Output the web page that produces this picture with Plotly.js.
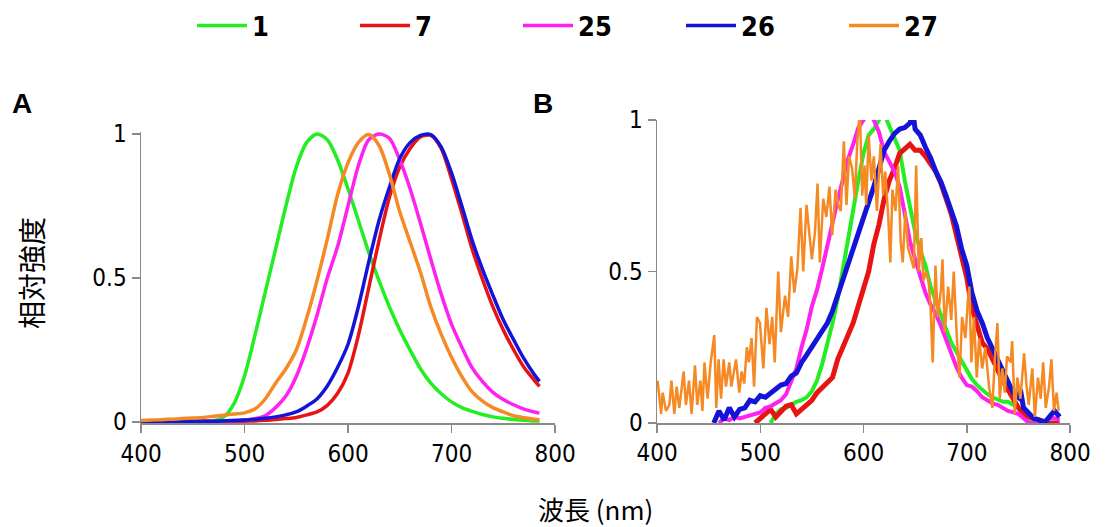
<!DOCTYPE html>
<html>
<head>
<meta charset="utf-8">
<script src="https://cdn.plot.ly/plotly-3.0.1.min.js"></script>
<style>html,body{margin:0;padding:0;background:#fff;}#chart{width:1106px;height:527px;}</style>
</head>
<body>
<div id="chart"></div>
<script>
// ---------- Panel A (smooth spectra) ----------
var aWl = [400,410,420,430,440,450,460,470,480,490,500,510,520,530,540,550,560,570,580,590,600,610,620,630,640,650,660,670,680,690,700,710,720,730,740,750,760,770,780,785];
var aS1  = [0.002,0.002,0.002,0.002,0.002,0.003,0.003,0.005,0.018,0.065,0.16,0.30,0.45,0.60,0.75,0.885,0.97,1.0,0.98,0.91,0.81,0.70,0.59,0.49,0.40,0.32,0.25,0.185,0.135,0.098,0.07,0.05,0.037,0.026,0.018,0.013,0.009,0.006,0.004,0.004];
var aS7  = [0.001,0.001,0.001,0.001,0.001,0.001,0.002,0.002,0.002,0.002,0.003,0.004,0.006,0.009,0.012,0.016,0.025,0.035,0.058,0.10,0.17,0.30,0.465,0.63,0.78,0.885,0.95,0.99,0.995,0.95,0.845,0.725,0.60,0.495,0.40,0.32,0.251,0.19,0.145,0.124];
var aS25 = [0.002,0.002,0.002,0.002,0.002,0.002,0.003,0.003,0.004,0.005,0.007,0.012,0.022,0.05,0.09,0.158,0.255,0.37,0.50,0.61,0.75,0.89,0.98,1.0,0.985,0.91,0.81,0.69,0.565,0.445,0.34,0.26,0.188,0.14,0.103,0.078,0.06,0.045,0.035,0.031];
var aS26 = [0.002,0.002,0.002,0.002,0.003,0.003,0.003,0.003,0.004,0.005,0.007,0.01,0.013,0.018,0.025,0.035,0.055,0.08,0.125,0.19,0.27,0.40,0.555,0.70,0.815,0.915,0.97,0.995,0.998,0.955,0.865,0.75,0.63,0.53,0.44,0.355,0.286,0.22,0.165,0.141];
var aS27 = [0.005,0.007,0.008,0.01,0.012,0.014,0.016,0.02,0.024,0.028,0.032,0.045,0.08,0.135,0.185,0.25,0.36,0.49,0.635,0.79,0.90,0.97,0.998,0.96,0.86,0.73,0.625,0.52,0.40,0.305,0.225,0.158,0.105,0.073,0.05,0.035,0.022,0.015,0.01,0.008];

// ---------- Panel B (noisy spectra) ----------
var b1Wl = [510,515,520,525,530,535,540,545,550,555,560,565,570,575,580,585,590,595,600,605,610,615,620,625,630,635,640,645,650,655,660,665,670,675,680,685,690,695,700,705,710,715,720,725,730,735,740,745,750,755,760,765];
var b1   = [0.0,0.03,0.045,0.05,0.06,0.07,0.075,0.085,0.105,0.14,0.195,0.26,0.33,0.41,0.51,0.60,0.70,0.80,0.89,0.95,0.97,1.0,1.02,0.98,0.945,0.90,0.80,0.72,0.63,0.57,0.52,0.45,0.40,0.35,0.31,0.265,0.235,0.20,0.17,0.145,0.125,0.11,0.095,0.085,0.078,0.07,0.07,0.06,0.05,0.035,0.015,0.0];
var b7Wl = [495,500,505,510,515,520,525,530,535,540,545,550,555,560,565,570,575,580,585,590,595,600,605,610,615,620,625,630,635,640,645,650,655,660,665,670,675,680,685,690,695,700,705,710,715,720,725,730,735,740,745,750,755,760,770,780,790];
var b7   = [0.0,0.015,0.03,0.045,0.02,0.04,0.055,0.06,0.03,0.045,0.06,0.075,0.10,0.115,0.13,0.15,0.21,0.255,0.29,0.33,0.39,0.45,0.50,0.59,0.655,0.74,0.80,0.84,0.89,0.905,0.92,0.90,0.90,0.88,0.855,0.83,0.79,0.745,0.69,0.62,0.55,0.48,0.38,0.32,0.265,0.245,0.21,0.17,0.14,0.11,0.08,0.05,0.03,0.02,0.01,0.0,0.0];
var b25Wl = [460,465,470,475,480,485,490,495,500,505,510,515,520,525,530,535,540,545,550,555,560,565,570,575,580,585,590,595,600,605,610,615,620,625,630,635,640,645,650,655,660,665,670,675,680,685,690,695,700,705,710,715,720,725,730,735,740,745,750,755,760,765,775,780,785,790];
var b25   = [0.0,0.015,0.01,0.02,0.015,0.02,0.025,0.03,0.035,0.05,0.055,0.065,0.075,0.095,0.135,0.18,0.25,0.31,0.385,0.44,0.51,0.58,0.66,0.735,0.80,0.87,0.92,0.975,1.0,1.02,1.0,0.96,0.895,0.86,0.83,0.78,0.69,0.60,0.54,0.48,0.43,0.39,0.36,0.32,0.27,0.23,0.185,0.15,0.125,0.12,0.105,0.085,0.075,0.065,0.06,0.05,0.04,0.035,0.03,0.016,0.0,0.0,0.0,0.016,0.016,0.01];
var b26Wl = [455,460,465,470,475,480,485,490,495,500,505,510,515,520,525,530,535,540,545,550,555,560,565,570,575,580,585,590,595,600,605,610,615,620,625,630,635,640,645,648,650,655,660,665,670,675,680,685,690,695,700,705,710,715,720,725,730,735,740,745,750,752,755,760,765,770,775,780,785,790];
var b26   = [0.0,0.04,0.01,0.05,0.02,0.045,0.05,0.075,0.07,0.09,0.085,0.10,0.11,0.125,0.13,0.155,0.165,0.20,0.225,0.25,0.28,0.305,0.33,0.37,0.42,0.48,0.52,0.575,0.62,0.67,0.72,0.78,0.84,0.90,0.93,0.955,0.97,0.975,0.99,1.02,0.97,0.95,0.91,0.875,0.83,0.795,0.75,0.70,0.65,0.575,0.52,0.43,0.37,0.33,0.28,0.245,0.21,0.17,0.135,0.10,0.085,0.11,0.05,0.03,0.015,0.01,0.0,0.02,0.04,0.02];
var b27Wl = [400.6,404,405.5,408.7,412,414,416.8,419,421.6,425.8,428,431,433.5,436.8,439,442,444,446,449,452,455.5,457.4,459.7,462,464.5,466.8,470,472,476.5,479.7,482,484.5,487,489,491.6,494,496.8,499.7,503,506,509,511.6,514,517.4,520,524,527,530,533,536,539,541.6,544.8,548,550,553,555.5,557.7,561,564,567,569.7,573,575.5,578,581,583.5,586,589,591.6,594,596.5,598.7,601,602.6,605,607.7,610,613,616.5,619,621,624,626,628,631,633.5,636,638,640.6,643,645.5,648.7,651,653.5,656,658,660.6,663,665,667,669.7,672,675,676.5,678.7,682,685,687.4,690.6,693,695.5,698.7,701,702.5,704.5,707,709.7,712,715,718,721.6,724.8,727,729.7,732,734.5,736.8,739,742.6,744,746.5,749,752,755.5,758,760,763.5,766,769,771.6,774,776.5,779.7,782,784.5,787,789];
var b27   = [0.14,0.03,0.10,0.04,0.06,0.14,0.03,0.12,0.05,0.17,0.06,0.14,0.03,0.19,0.06,0.14,0.04,0.20,0.08,0.20,0.29,0.05,0.21,0.08,0.21,0.12,0.20,0.12,0.21,0.10,0.17,0.13,0.25,0.20,0.28,0.12,0.35,0.33,0.18,0.38,0.26,0.35,0.20,0.50,0.30,0.42,0.35,0.55,0.43,0.51,0.71,0.50,0.72,0.60,0.54,0.63,0.79,0.53,0.74,0.68,0.78,0.62,0.77,0.72,0.70,0.93,0.72,0.88,0.84,0.74,0.93,1.03,0.75,0.85,0.72,0.95,0.80,0.88,0.70,0.92,0.75,0.83,0.68,0.53,0.77,0.70,0.85,0.60,0.53,0.70,0.58,0.55,0.51,0.85,0.50,0.61,0.47,0.50,0.47,0.38,0.20,0.52,0.35,0.44,0.54,0.30,0.45,0.34,0.50,0.27,0.15,0.35,0.28,0.40,0.45,0.20,0.35,0.15,0.28,0.18,0.25,0.12,0.05,0.20,0.33,0.08,0.18,0.10,0.22,0.20,0.27,0.03,0.15,0.08,0.23,0.12,0.06,0.18,0.02,0.15,0.08,0.20,0.05,0.12,0.21,0.04,0.10,0.04];

var names  = ['1','7','25','26','27'];
var colors = ['#22ee22','#e81414','#ff22ee','#1414d8','#f58a24'];

var FONT = '"Liberation Sans Narrow","DejaVu Sans Condensed","Liberation Sans",Arial,sans-serif';
var CJK = '"Noto Sans CJK JP","Noto Sans CJK SC",sans-serif';

var aData = [aS1, aS7, aS25, aS26, aS27];
var bX = [b1Wl, b7Wl, b25Wl, b26Wl, b27Wl];
var bY = [b1, b7, b25, b26, b27];
var bWidth = [4, 5, 4, 5, 2.5];

var traces = [];
for (var i = 0; i < 5; i++) {
  traces.push({
    x: aWl, y: aData[i], type: 'scatter', mode: 'lines', name: names[i],
    line: {color: colors[i], width: 3.5, shape: 'spline', smoothing: 0.8},
    xaxis: 'x', yaxis: 'y', legendgroup: names[i], showlegend: true
  });
}
for (var j = 0; j < 5; j++) {
  traces.push({
    x: bX[j], y: bY[j], type: 'scatter', mode: 'lines', name: names[j],
    line: {color: colors[j], width: bWidth[j]},
    xaxis: 'x2', yaxis: 'y2', legendgroup: names[j], showlegend: false
  });
}

var W = 1106, H = 527;
function px(x){return x/W;}
function py(y){return (H-y)/H;}

var axisCommon = {
  showgrid: false, zeroline: false, showline: true, linecolor: '#8a8a8a', linewidth: 1.5,
  ticks: 'outside', ticklen: 8, tickwidth: 1.5, tickcolor: '#8a8a8a', automargin: false,
  tickfont: {family: FONT, size: 24, color: '#000'}, fixedrange: true
};
function xax(dom, anchor){
  return Object.assign({}, axisCommon, {domain: dom, anchor: anchor, range: [400, 800],
    tickvals: [400,500,600,700,800], ticktext: ['400','500','600','700','800']});
}
function yax(dom, anchor, rng){
  return Object.assign({}, axisCommon, {domain: dom, anchor: anchor, range: rng,
    tickvals: [0,0.5,1], ticktext: ['0','0.5','1']});
}

var layout = {
  width: W, height: H,
  margin: {l: 0, r: 0, t: 0, b: 0, autoexpand: false},
  paper_bgcolor: '#fff', plot_bgcolor: '#fff',
  showlegend: true,
  legend: {orientation: 'h', x: px(192), xanchor: 'left', y: py(26), yanchor: 'middle',
    entrywidth: 98, itemwidth: 50, font: {family: FONT, size: 27, color: '#000', weight: 'bold'},
    bgcolor: 'rgba(0,0,0,0)'},
  xaxis: xax([px(141), px(555)], 'y'),
  yaxis: yax([py(423.2), py(131.7)], 'x', [-0.004, 1.008]),
  xaxis2: xax([px(657), px(1070)], 'y2'),
  yaxis2: yax([py(423), py(120)], 'x2', [0, 1]),
  annotations: [
    {text: 'A', x: px(22), y: py(103), xref: 'paper', yref: 'paper', xanchor: 'center', yanchor: 'middle', showarrow: false,
     font: {family: '"Liberation Sans",Arial,sans-serif', size: 28, color: '#000', weight: 'bold'}},
    {text: 'B', x: px(543), y: py(103), xref: 'paper', yref: 'paper', xanchor: 'center', yanchor: 'middle', showarrow: false,
     font: {family: '"Liberation Sans",Arial,sans-serif', size: 28, color: '#000', weight: 'bold'}},
    {text: '相対強度', x: px(31), y: py(273), xref: 'paper', yref: 'paper', xanchor: 'center', yanchor: 'middle', showarrow: false, textangle: -90,
     font: {family: CJK, size: 28, color: '#000'}},
    {text: '波長 (nm)', x: px(595), y: py(508), xref: 'paper', yref: 'paper', xanchor: 'center', yanchor: 'middle', showarrow: false,
     font: {family: CJK, size: 26, color: '#000'}}
  ]
};

Plotly.newPlot('chart', traces, layout, {displayModeBar: false, staticPlot: true});
</script>
</body>
</html>
